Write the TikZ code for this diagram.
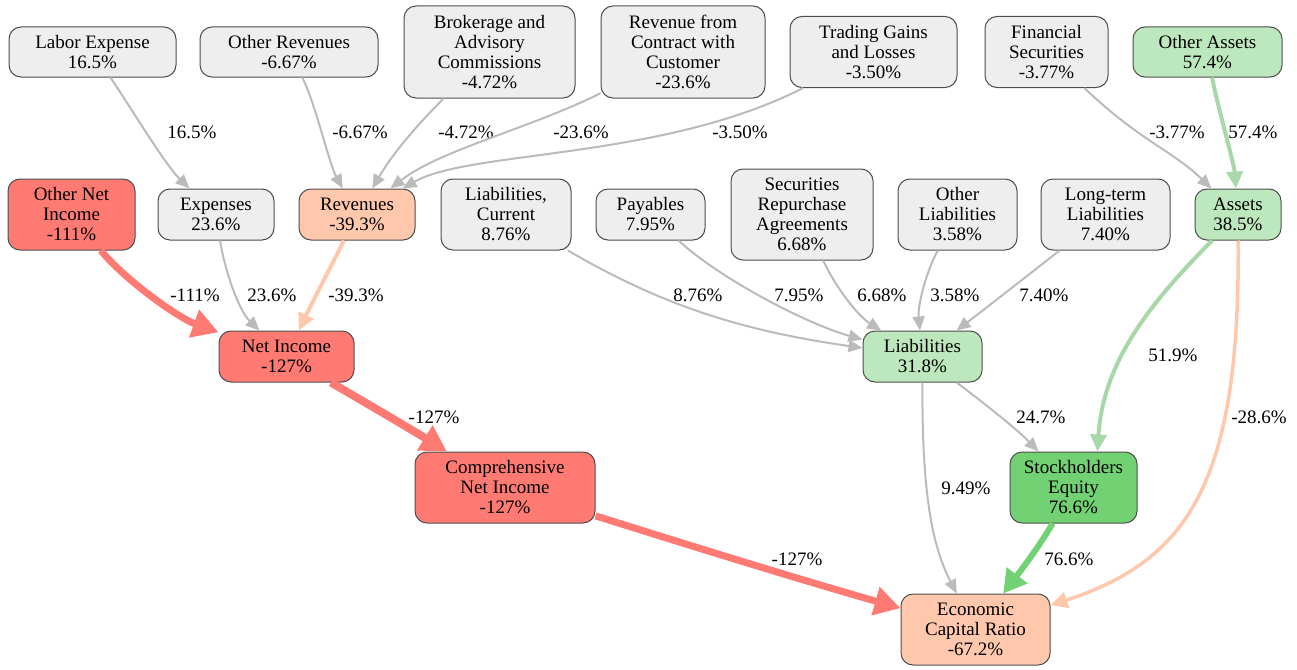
\documentclass[tikz,border=0pt]{standalone}
\usepackage{fontspec}
\setmainfont{Liberation Serif}
\usetikzlibrary{arrows.meta}
\definecolor{boxgray}{HTML}{EEEEEE}
\definecolor{boxred}{HTML}{FF7A73}
\definecolor{boxpeach}{HTML}{FFC8AD}
\definecolor{boxlgreen}{HTML}{BDE7BC}
\definecolor{boxgreen}{HTML}{72D172}
\definecolor{linegray}{HTML}{BBBBBB}
\definecolor{linelgreen}{HTML}{A9D8A8}
\definecolor{rim}{HTML}{4D4D4D}

\begin{document}
\begin{tikzpicture}[x=1pt,y=-1pt]
	\tikzstyle{box} = [draw=rim,line width=1pt,rounded corners=12pt,align=center,inner sep=0pt,minimum height=50pt,font=\fontsize{19}{20}\selectfont]
	\tikzstyle{lbl} = [font=\fontsize{19}{20}\selectfont]
	\tikzstyle{flow} = [draw=linegray,line width=2pt,-{Triangle[length=14pt,width=12pt]}]
	\tikzstyle{redflow} = [draw=boxred,line width=7pt,-{Triangle[length=26pt,width=28pt]}]
	\tikzstyle{peachflow} = [draw=boxpeach,line width=4pt,-{Triangle[length=17pt,width=16pt]}]
	\tikzstyle{lgflow} = [draw=linelgreen,line width=4pt,-{Triangle[length=17pt,width=16pt]}]
	\tikzstyle{greenflow} = [draw=boxgreen,line width=6pt,-{Triangle[length=23pt,width=25pt]}]

	\useasboundingbox (0,0) rectangle (1297,669);

	% top row
	\node[box,fill=boxgray,minimum width=167pt] (le) at (92.5,52) {Labor Expense\\16.5\%};
	\node[box,fill=boxgray,minimum width=178pt] (orv) at (289,52) {Other Revenues\\-6.67\%};
	\node[box,fill=boxgray,minimum width=171pt,minimum height=92pt] (bro) at (489.5,52) {Brokerage and\\Advisory\\Commissions\\-4.72\%};
	\node[box,fill=boxgray,minimum width=164pt,minimum height=92pt] (rcc) at (683,52) {Revenue from\\Contract with\\Customer\\-23.6\%};
	\node[box,fill=boxgray,minimum width=167pt,minimum height=71pt] (tgl) at (873.5,52) {Trading Gains\\and Losses\\-3.50\%};
	\node[box,fill=boxgray,minimum width=123pt,minimum height=71pt] (fse) at (1046.5,52) {Financial\\Securities\\-3.77\%};
	\node[box,fill=boxlgreen,minimum width=149pt] (oas) at (1207.5,52) {Other Assets\\57.4\%};

	% second row
	\node[box,fill=boxred,minimum width=127pt,minimum height=71pt] (oni) at (71.5,214.5) {Other Net\\Income\\-111\%};
	\node[box,fill=boxgray,minimum width=116pt,minimum height=51pt] (exp) at (216,214.5) {Expenses\\23.6\%};
	\node[box,fill=boxpeach,minimum width=116pt,minimum height=51pt] (rev) at (357,214.5) {Revenues\\-39.3\%};
	\node[box,fill=boxgray,minimum width=130pt,minimum height=71pt] (lcu) at (506,214.5) {Liabilities,\\Current\\8.76\%};
	\node[box,fill=boxgray,minimum width=109pt,minimum height=51pt] (pay) at (650.5,214.5) {Payables\\7.95\%};
	\node[box,fill=boxgray,minimum width=142pt,minimum height=91pt] (sra) at (802,214.5) {Securities\\Repurchase\\Agreements\\6.68\%};
	\node[box,fill=boxgray,minimum width=119pt,minimum height=71pt] (oli) at (957.5,214.5) {Other\\Liabilities\\3.58\%};
	\node[box,fill=boxgray,minimum width=129pt,minimum height=71pt] (ltl) at (1105.5,214.5) {Long-term\\Liabilities\\7.40\%};
	\node[box,fill=boxlgreen,minimum width=86pt,minimum height=51pt] (ast) at (1238,214.5) {Assets\\38.5\%};

	% lower part
	\node[box,fill=boxred,minimum width=135pt,minimum height=51pt] (nin) at (286.5,356.5) {Net Income\\-127\%};
	\node[box,fill=boxlgreen,minimum width=119pt,minimum height=51pt] (lia) at (922.5,356.5) {Liabilities\\31.8\%};
	\node[box,fill=boxred,minimum width=180pt,minimum height=71pt] (cni) at (505,487.5) {Comprehensive\\Net Income\\-127\%};
	\node[box,fill=boxgreen,minimum width=127pt,minimum height=71pt] (seq) at (1073.5,487.5) {Stockholders\\Equity\\76.6\%};
	\node[box,fill=boxpeach,minimum width=149pt,minimum height=71pt] (ecr) at (975.5,629.5) {Economic\\Capital Ratio\\-67.2\%};

	% flows into the second row
	\draw[flow] (le) .. controls (127.5,102) and (164,163.5) .. (exp) node[lbl] (w1) at (192,132) {16.5\%};
	\draw[flow] (orv) .. controls (315,102) and (329,163.5) .. (rev) node[lbl] (w2) at (360,132) {-6.67\%};
	\draw[flow] (bro) .. controls (416.7,125.6) and (393,153) .. (rev) node[lbl] (w3) at (466,132) {-4.72\%};
	\draw[flow] (rcc) .. controls (531,128) and (440,150) .. (rev) node[lbl] (w4) at (581,132) {-23.6\%};
	\draw[flow] (tgl) .. controls (662,160) and (470,150) .. (rev) node[lbl] (w5) at (740,132) {-3.50\%};
	\draw[flow] (fse) .. controls (1140,141) and (1173,151) .. (ast) node[lbl] (w6) at (1177,132) {-3.77\%};
	\draw[lgflow] (oas) .. controls (1216.5,102) and (1234,163.5) .. (ast) node[lbl] (w7) at (1253,132) {57.4\%};

	% flows into the third row
	\draw[redflow] (oni) .. controls (125,280) and (178.5,318) .. (nin) node[lbl] (w8) at (195,295) {-111\%};
	\draw[flow] (exp) .. controls (224.8,270.6) and (238.8,310.6) .. (nin) node[lbl] (w9) at (272,295) {23.6\%};
	\draw[peachflow] (rev) .. controls (329,270.3) and (313,300.7) .. (nin) node[lbl] (w10) at (356,295) {-39.3\%};
	\draw[flow] (lcu) .. controls (664.6,306.8) and (744,331) .. (lia) node[lbl] (w11) at (698,295) {8.76\%};
	\draw[flow] (pay) .. controls (719,278) and (805.5,323.5) .. (lia) node[lbl] (w12) at (799,295) {7.95\%};
	\draw[flow] (sra) .. controls (835.6,287.3) and (857.7,315.7) .. (lia) node[lbl] (w13) at (882,295) {6.68\%};
	\draw[flow] (oli) .. controls (926.3,271.3) and (917.5,305.5) .. (lia) node[lbl] (w14) at (955,295) {3.58\%};
	\draw[flow] (ltl) .. controls (1025.7,277) and (991.3,304) .. (lia) node[lbl] (w15) at (1044,295) {7.40\%};

	% flows further down
	\draw[lgflow] (ast) .. controls (1150,303) and (1103,362) .. ([xshift=24pt]seq.north) node[lbl] (w16) at (1173,355) {51.9\%};
	\draw[peachflow,line width=3.5pt] (ast) .. controls (1240,480) and (1190,560) .. (ecr) node[lbl] (w17) at (1259,417) {-28.6\%};
	\draw[redflow,line width=8pt] (nin) .. controls (370,405.3) and (410,428.7) .. (cni) node[lbl] (w18) at (434,417) {-127\%};
	\draw[flow] (lia) .. controls (986.7,405.3) and (1016.3,428.7) .. (seq) node[lbl] (w19) at (1041,417) {24.7\%};
	\draw[flow] (lia) .. controls (922,480) and (929.25,540.75) .. (ecr) node[lbl] (w20) at (966,488) {9.49\%};
	\draw[redflow] (cni) .. controls (697,547.7) and (799,579.3) .. (ecr) node[lbl] (w21) at (797,559) {-127\%};
	\draw[greenflow] (seq) .. controls (1039,546.7) and (1021,570.3) .. (ecr) node[lbl] (w22) at (1069,559) {76.6\%};
\end{tikzpicture}
\end{document}
